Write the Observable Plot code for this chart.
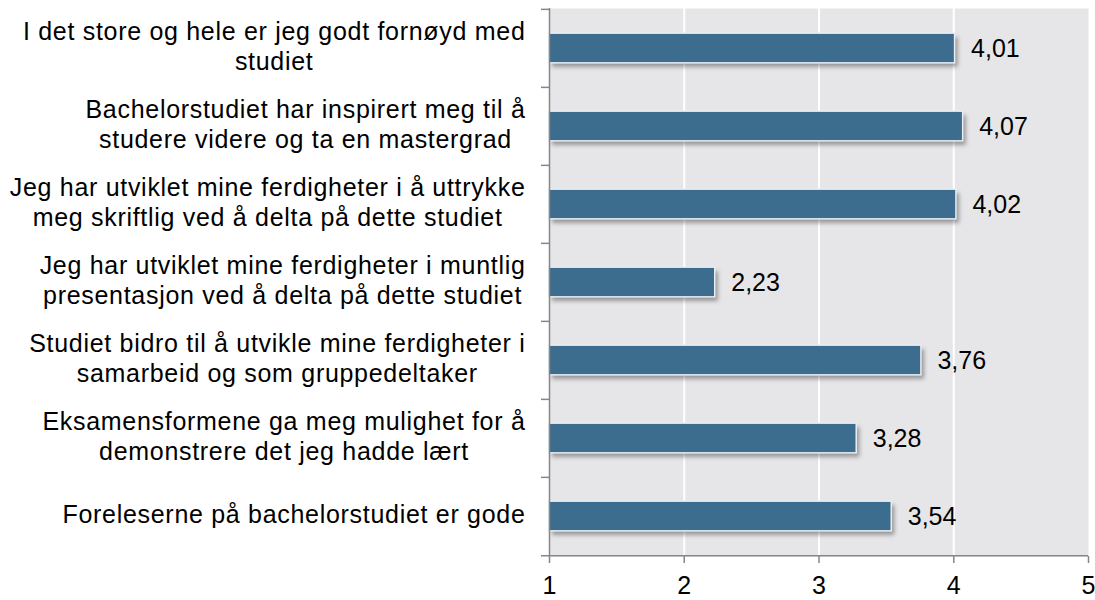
<!DOCTYPE html>
<html><head><meta charset="utf-8">
<script src="https://cdn.jsdelivr.net/npm/d3@7"></script>
<script src="https://cdn.jsdelivr.net/npm/@observablehq/plot@0.6"></script>
<style>
body{margin:0;background:#fff;font-family:"Liberation Sans",Arial,sans-serif}
#chart svg{display:block}
</style></head>
<body><div id="chart"></div>
<script>
const categories = [
  "I det store og hele er jeg godt fornøyd med\nstudiet",
  "Bachelorstudiet har inspirert meg til å\nstudere videre og ta en mastergrad",
  "Jeg har utviklet mine ferdigheter i å uttrykke\nmeg skriftlig ved å delta på dette studiet",
  "Jeg har utviklet mine ferdigheter i muntlig\npresentasjon ved å delta på dette studiet",
  "Studiet bidro til å utvikle mine ferdigheter i\nsamarbeid og som gruppedeltaker",
  "Eksamensformene ga meg mulighet for å\ndemonstrere det jeg hadde lært",
  "Foreleserne på bachelorstudiet er gode"
];
const values = [4.01, 4.07, 4.02, 2.23, 3.76, 3.28, 3.54];
const valueLabels = ["4,01", "4,07", "4,02", "2,23", "3,76", "3,28", "3,54"];
const xTicks = [1, 2, 3, 4, 5];
const xTickLabels = ["1", "2", "3", "4", "5"];
const gridValues = [2, 3, 4];

const data = categories.map((c, i) => ({category: c, value: values[i], label: valueLabels[i]}));

const W = 1095, H = 600, mL = 549, mR = 7, mT = 8, mB = 44;
const step = (H - mT - mB) / categories.length;
const barH = 30;
const inset = (step - barH) / 2;
const axisColor = "#878787";
const font = 25;

const plot = Plot.plot({
  width: W, height: H,
  marginLeft: mL, marginRight: mR, marginTop: mT, marginBottom: mB,
  style: {fontFamily: '"Liberation Sans", Arial, sans-serif', background: "#fff"},
  x: {domain: [1, 5], axis: null},
  y: {domain: categories, padding: 0, axis: null},
  marks: [
    Plot.frame({fill: "#e6e6e8", stroke: null}),
    Plot.ruleX(gridValues, {stroke: "#fff", strokeWidth: 2}),
    Plot.barX(data, {x1: 1, x2: "value", y: "category", insetTop: inset, insetBottom: inset, dx: 3, dy: 4, fill: "#333", fillOpacity: 0.45}),
    Plot.barX(data, {x1: 1, x2: "value", y: "category", insetTop: inset, insetBottom: inset, fill: "#3c6d8e", stroke: "#e8eef3", strokeWidth: 1.5}),
    Plot.text(data, {x: "value", y: "category", text: "label", textAnchor: "start", dx: 16, fontSize: font, fill: "#000"}),
    Plot.text(data, {x: 1, y: "category", text: "category", textAnchor: "end", dx: -24, dy: -3, fontSize: font, lineHeight: 1.2, fill: "#000"}),
    Plot.ruleX([1], {stroke: axisColor, strokeWidth: 1.5}),
    Plot.tickY(categories, {y: d => d, dy: -step / 2, insetLeft: -8, insetRight: W - mL - mR, stroke: axisColor, strokeWidth: 1.5}),
    Plot.tickY(categories.slice(-1), {y: d => d, dy: step / 2, insetLeft: -8, stroke: axisColor, strokeWidth: 1.5}),
    Plot.axisX(xTicks, {tickSize: 7, tickPadding: 13, fontSize: font, stroke: axisColor, strokeWidth: 1.5, fill: "#000",
      tickFormat: (d, i) => xTickLabels[xTicks.indexOf(d)], label: null})
  ]
});
document.getElementById("chart").appendChild(plot);

// shadow blur on the first bar layer
const barGroups = plot.querySelectorAll('g[aria-label="bar"]');
if (barGroups.length) barGroups[0].style.filter = "blur(2px)";

// center multi-line category labels within a right-aligned block
const flat = new Set(categories.map(c => c.replace(/\n/g, "")));
plot.querySelectorAll("text").forEach(t => {
  if (!flat.has(t.textContent)) return;
  t.style.letterSpacing = "0.7px";
  const w = t.getBBox().width;
  t.setAttribute("text-anchor", "middle");
  const tr = t.getAttribute("transform") || "";
  t.setAttribute("transform", tr + ` translate(${-w / 2},0)`);
});
</script>
</body></html>
